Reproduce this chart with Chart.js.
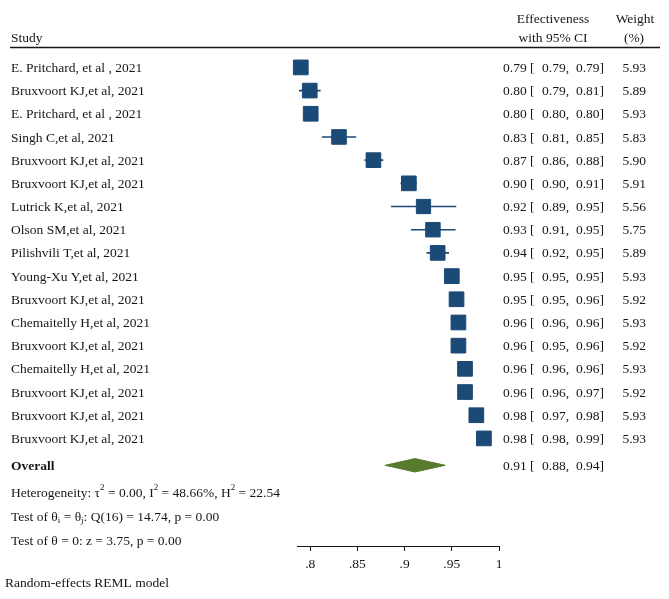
<!DOCTYPE html>
<html>
<head>
<meta charset="utf-8">
<script src="https://cdn.jsdelivr.net/npm/chart.js@4.4.1/dist/chart.umd.min.js"></script>
<style>
  html, body { margin: 0; padding: 0; background: #fff; }
</style>
</head>
<body>
<canvas id="forestChart" width="669" height="599"></canvas>
<script>
// Studies and their estimates
const studies = [
    'E. Pritchard, et al , 2021', 'Bruxvoort KJ,et al, 2021', 'E. Pritchard, et al , 2021',
    'Singh C,et al, 2021', 'Bruxvoort KJ,et al, 2021', 'Bruxvoort KJ,et al, 2021',
    'Lutrick K,et al, 2021', 'Olson SM,et al, 2021', 'Pilishvili T,et al, 2021',
    'Young-Xu Y,et al, 2021', 'Bruxvoort KJ,et al, 2021', 'Chemaitelly H,et al, 2021',
    'Bruxvoort KJ,et al, 2021', 'Chemaitelly H,et al, 2021', 'Bruxvoort KJ,et al, 2021',
    'Bruxvoort KJ,et al, 2021', 'Bruxvoort KJ,et al, 2021'
];
const estimates = [0.790, 0.7995, 0.8005, 0.8305, 0.867, 0.9045, 0.920, 0.930, 0.935,
    0.950, 0.955, 0.957, 0.957, 0.964, 0.964, 0.976, 0.984];
const lower = [0.789, 0.788, 0.7995, 0.8124, 0.8575, 0.8956, 0.8855, 0.9067, 0.9232,
    0.949, 0.953, 0.956, 0.955, 0.963, 0.962, 0.974, 0.981];
const upper = [0.791, 0.811, 0.8015, 0.8487, 0.8774, 0.913, 0.9547, 0.954, 0.947,
    0.951, 0.957, 0.958, 0.959, 0.965, 0.967, 0.978, 0.987];
const weights = [5.93, 5.89, 5.93, 5.83, 5.90, 5.91, 5.56, 5.75, 5.89,
    5.93, 5.92, 5.93, 5.92, 5.93, 5.92, 5.93, 5.93];

// Printed columns, as in the table
const estText = ['0.79', '0.80', '0.80', '0.83', '0.87', '0.90', '0.92', '0.93', '0.94',
    '0.95', '0.95', '0.96', '0.96', '0.96', '0.96', '0.98', '0.98'];
const loText = ['0.79', '0.79', '0.80', '0.81', '0.86', '0.90', '0.89', '0.91', '0.92',
    '0.95', '0.95', '0.96', '0.95', '0.96', '0.96', '0.97', '0.98'];
const hiText = ['0.79', '0.81', '0.80', '0.85', '0.88', '0.91', '0.95', '0.95', '0.95',
    '0.95', '0.96', '0.96', '0.96', '0.96', '0.97', '0.98', '0.99'];

// Overall (random-effects) result
const overallEst = 0.911;
const overallLo = 0.8794;
const overallHi = 0.943;
const overallText = ['0.91', '0.88', '0.94'];

const xTicks = [0.8, 0.85, 0.9, 0.95, 1];

// layout of the rows (in row units of the y scale)
const overallRow = 17.16;
const statRows = [18.33, 19.37, 20.4];
const footRow = 22.2;
const diamondHalf = 0.29;

const navy = '#1b4a77';
const green = '#587a2c';
const ink = '#161616';
const serif = '"Liberation Serif", "Times New Roman", serif';
const fs = 13.5;

// whisker segments, broken with nulls
const whiskers = [];
estimates.forEach((e, i) => {
    whiskers.push({x: lower[i], y: i}, {x: upper[i], y: i}, {x: null, y: null});
});

const diamond = [
    {x: overallLo, y: overallRow},
    {x: overallEst, y: overallRow - diamondHalf},
    {x: overallHi, y: overallRow},
    {x: overallEst, y: overallRow + diamondHalf},
    {x: overallLo, y: overallRow}
];

// draw a line of text made of plain / sup / sub pieces
function richText(ctx, parts, x, y) {
    parts.forEach(p => {
        const kind = p[1] || '';
        ctx.font = (kind ? '9px ' : fs + 'px ') + serif;
        const dy = kind === 'sup' ? -6 : kind === 'sub' ? 3 : 0;
        ctx.fillText(p[0], x, y + dy);
        x += ctx.measureText(p[0]).width;
    });
}

const tablePlugin = {
    id: 'forestTable',
    afterDraw(chart) {
        const ctx = chart.ctx;
        const rowY = r => chart.scales.y.getPixelForValue(r) + 1;
        ctx.save();
        ctx.fillStyle = ink;
        ctx.textBaseline = 'middle';
        ctx.font = fs + 'px ' + serif;

        // header
        ctx.textAlign = 'left';
        ctx.fillText('Study', 11, rowY(-1.29));
        ctx.textAlign = 'center';
        ctx.fillText('Effectiveness', 553, rowY(-2.1));
        ctx.fillText('with 95% CI', 553, rowY(-1.29));
        ctx.fillText('Weight', 635, rowY(-2.1));
        ctx.fillText('(%)', 634, rowY(-1.29));
        ctx.strokeStyle = ink;
        ctx.lineWidth = 1.5;
        ctx.beginPath();
        ctx.moveTo(10, rowY(-0.9));
        ctx.lineTo(660, rowY(-0.9));
        ctx.stroke();

        const ciCols = (y, e, l, h) => {
            ctx.textAlign = 'left';
            ctx.fillText(e + ' [', 503, y);
            ctx.textAlign = 'right';
            ctx.fillText(l + ',', 569, y);
            ctx.fillText(h + ']', 604, y);
        };

        studies.forEach((s, i) => {
            const y = rowY(i);
            ctx.textAlign = 'left';
            ctx.fillText(s, 11, y);
            ciCols(y, estText[i], loText[i], hiText[i]);
            ctx.textAlign = 'right';
            ctx.fillText(weights[i].toFixed(2), 646, y);
        });

        // overall row
        ctx.textAlign = 'left';
        ctx.font = 'bold ' + fs + 'px ' + serif;
        ctx.fillText('Overall', 11, rowY(overallRow));
        ctx.font = fs + 'px ' + serif;
        ciCols(rowY(overallRow), overallText[0], overallText[1], overallText[2]);

        ctx.textAlign = 'left';
        richText(ctx, [['Heterogeneity: \u03c4'], ['2', 'sup'], [' = 0.00, I'], ['2', 'sup'],
            [' = 48.66%, H'], ['2', 'sup'], [' = 22.54']], 11, rowY(statRows[0]));
        richText(ctx, [['Test of \u03b8'], ['i', 'sub'], [' = \u03b8'], ['j', 'sub'],
            [': Q(16) = 14.74, p = 0.00']], 11, rowY(statRows[1]));
        richText(ctx, [['Test of \u03b8 = 0: z = 3.75, p = 0.00']], 11, rowY(statRows[2]));
        richText(ctx, [['Random-effects REML model']], 5, rowY(footRow));
        ctx.restore();
    }
};

const ctx = document.getElementById('forestChart').getContext('2d');
const forestChart = new Chart(ctx, {
    type: 'scatter',
    data: {
        datasets: [
            {
                label: 'CI',
                type: 'line',
                data: whiskers,
                borderColor: navy,
                borderWidth: 1.6,
                pointRadius: 0,
                spanGaps: false,
                fill: false,
                clip: false,
                order: 3
            },
            {
                label: 'Studies',
                data: estimates.map((e, i) => ({x: e, y: i})),
                pointStyle: 'rect',
                pointRadius: weights.map(w => 10.4 * Math.sqrt(w / 5.93)),
                backgroundColor: navy,
                borderColor: navy,
                borderWidth: 1,
                clip: false,
                order: 2
            },
            {
                label: 'Overall',
                type: 'line',
                data: diamond,
                borderColor: green,
                backgroundColor: green,
                borderWidth: 1,
                pointRadius: 0,
                fill: 'shape',
                tension: 0,
                clip: false,
                order: 1
            }
        ]
    },
    options: {
        responsive: false,
        animation: false,
        layout: { padding: { left: 297, right: 170, top: 50, bottom: 13 } },
        plugins: {
            legend: { display: false },
            tooltip: { enabled: false }
        },
        scales: {
            x: {
                type: 'linear',
                min: 0.786,
                max: 1,
                afterBuildTicks: s => { s.ticks = xTicks.map(v => ({value: v})); },
                afterFit: s => { s.height = 40; },
                grid: { display: true, drawOnChartArea: false, drawTicks: true, tickLength: 5, color: ink },
                border: { display: true, color: ink, width: 1 },
                ticks: {
                    color: ink,
                    padding: 5,
                    maxRotation: 0,
                    font: { family: serif, size: fs },
                    callback: v => String(v).replace(/^0\./, '.')
                }
            },
            y: {
                type: 'linear',
                display: false,
                reverse: true,
                min: -0.75,
                max: 20.64
            }
        }
    },
    plugins: [tablePlugin]
});
</script>
</body>
</html>
